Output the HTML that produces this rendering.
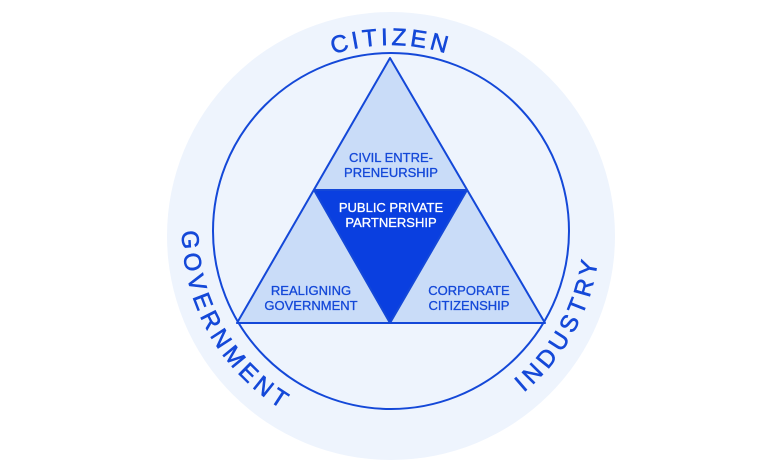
<!DOCTYPE html>
<html><head><meta charset="utf-8"><style>html,body{margin:0;padding:0;background:#fff}svg{display:block}</style></head>
<body>
<svg width="780" height="470" viewBox="0 0 780 470" xmlns="http://www.w3.org/2000/svg">
<defs>
<path id="top" d="M 205 231 A 186 186 0 0 1 577 231"/>
<path id="bot" d="M 182 231 A 209 209 0 0 0 600 231"/>
</defs>
<circle cx="391" cy="236" r="224" fill="#eef4fd"/>
<circle cx="391" cy="231" r="178" fill="none" stroke="#1448d8" stroke-width="2"/>
<polygon points="390,58 237,323 545,323" fill="#c9dcf8" stroke="#1448d8" stroke-width="2" stroke-linejoin="round"/>
<polygon points="314,190 467,190 390,323" fill="#0a3fe0" stroke="#1448d8" stroke-width="2" stroke-linejoin="round"/>
<g font-family="Liberation Sans, sans-serif" font-size="13" fill="#1448d8" text-anchor="middle" stroke="#1448d8" stroke-width="0.3">
<text x="391" y="162">CIVIL ENTRE-</text>
<text x="391" y="177">PRENEURSHIP</text>
<text x="311" y="295">REALIGNING</text>
<text x="311" y="310">GOVERNMENT</text>
<text x="469" y="295">CORPORATE</text>
<text x="469" y="310">CITIZENSHIP</text>
<text x="391" y="212" fill="#ffffff" stroke="#ffffff">PUBLIC PRIVATE</text>
<text x="391" y="227" fill="#ffffff" stroke="#ffffff">PARTNERSHIP</text>
</g>
<g font-family="Liberation Sans, sans-serif" font-size="24" fill="#1448d8" stroke="#1448d8" stroke-width="0.6">
<text text-anchor="middle" letter-spacing="3.5"><textPath href="#top" startOffset="50%">CITIZEN</textPath></text>
<text letter-spacing="4.5"><textPath href="#bot" startOffset="0%">GOVERNMENT</textPath></text>
<text text-anchor="end" letter-spacing="4.5"><textPath href="#bot" startOffset="96%">INDUSTRY</textPath></text>
</g>
</svg>
</body></html>
